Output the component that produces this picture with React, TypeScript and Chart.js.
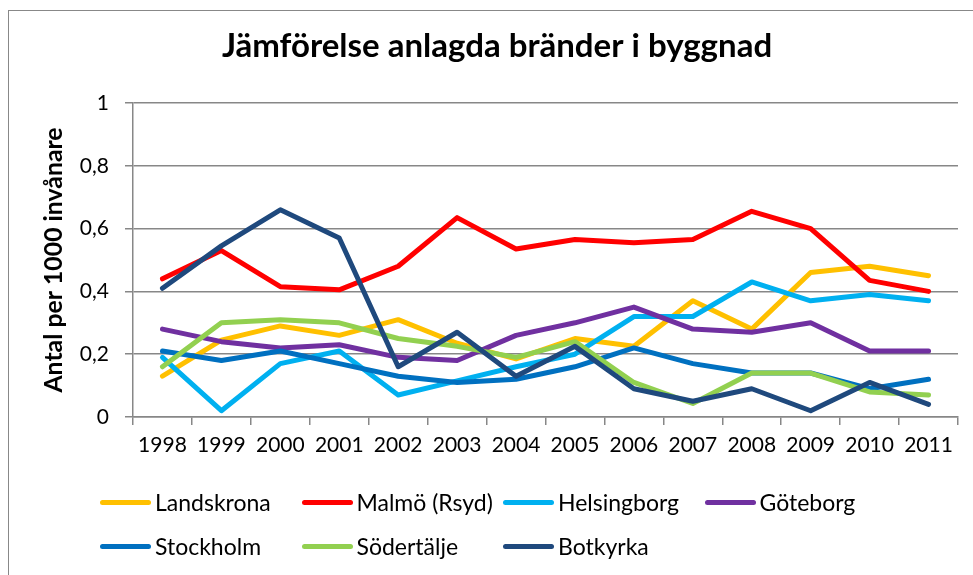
import React, { useEffect, useRef } from "react";
import { Chart, registerables } from "chart.js";

Chart.register(...registerables);

const years = ["1998", "1999", "2000", "2001", "2002", "2003", "2004", "2005", "2006", "2007", "2008", "2009", "2010", "2011"];

const landskrona = [0.13, 0.245, 0.29, 0.26, 0.31, 0.235, 0.185, 0.25, 0.225, 0.37, 0.28, 0.46, 0.48, 0.45];
const malmo = [0.44, 0.53, 0.415, 0.405, 0.48, 0.635, 0.535, 0.565, 0.555, 0.565, 0.655, 0.6, 0.435, 0.4];
const helsingborg = [0.19, 0.02, 0.17, 0.21, 0.07, 0.115, 0.16, 0.2, 0.32, 0.32, 0.43, 0.37, 0.39, 0.37];
const goteborg = [0.28, 0.24, 0.22, 0.23, 0.19, 0.18, 0.26, 0.3, 0.35, 0.28, 0.27, 0.3, 0.21, 0.21];
const stockholm = [0.21, 0.18, 0.21, 0.17, 0.13, 0.11, 0.12, 0.16, 0.22, 0.17, 0.14, 0.14, 0.09, 0.12];
const sodertalje = [0.16, 0.3, 0.31, 0.3, 0.25, 0.225, 0.19, 0.24, 0.11, 0.043, 0.14, 0.14, 0.08, 0.07];
const botkyrka = [0.41, 0.545, 0.66, 0.57, 0.16, 0.27, 0.13, 0.225, 0.09, 0.05, 0.09, 0.02, 0.11, 0.04];

const seriesNames = ["Landskrona", "Malmö (Rsyd)", "Helsingborg", "Göteborg", "Stockholm", "Södertälje", "Botkyrka"];
const seriesValues = [landskrona, malmo, helsingborg, goteborg, stockholm, sodertalje, botkyrka];
const seriesColors = ["#FFC000", "#FF0000", "#00B0F0", "#7030A0", "#0070C0", "#92D050", "#1F497D"];

const titleText = "Jämförelse anlagda bränder i byggnad";
const yTitleText = "Antal per 1000 invånare";

const FONT = "Lato, 'Noto Sans', sans-serif";
const GRAY = "#878787";

export default function App() {
  const canvasRef = useRef<HTMLCanvasElement | null>(null);

  useEffect(() => {
    const canvas = canvasRef.current;
    if (!canvas) return;
    const n = seriesNames.length;
    const chart = new Chart(canvas, {
      type: "line",
      data: {
        labels: years,
        datasets: seriesNames.map((name, i) => ({
          label: name,
          data: seriesValues[i],
          borderColor: seriesColors[i],
          backgroundColor: seriesColors[i],
          borderWidth: 5,
          pointRadius: 0,
          pointHoverRadius: 0,
          tension: 0,
          fill: false,
          borderCapStyle: "round" as const,
          borderJoinStyle: "round" as const,
          order: n - 1 - i,
        })),
      },
      options: {
        responsive: false,
        animation: false,
        devicePixelRatio: 1,
        layout: { padding: { left: 36, right: 15, top: 0, bottom: 0 } },
        plugins: {
          legend: { display: false },
          tooltip: { enabled: false },
          title: {
            display: true,
            text: titleText,
            color: "#000",
            font: { family: FONT, size: 33, weight: "bold" },
            padding: { top: 27, bottom: 36.4 },
          },
        },
        scales: {
          x: {
            type: "category",
            offset: true,
            grid: {
              offset: true,
              drawOnChartArea: false,
              drawTicks: true,
              tickLength: 8,
              color: GRAY,
              lineWidth: 1.5,
            },
            border: { display: true, color: GRAY, width: 1.5 },
            ticks: {
              color: "#000",
              font: { family: FONT, size: 21 },
              padding: 8,
              maxRotation: 0,
              autoSkip: false,
            },
            afterFit: (s: any) => {
              s.height = 158;
            },
          },
          y: {
            min: 0,
            max: 1,
            ticks: {
              stepSize: 0.2,
              color: "#000",
              font: { family: FONT, size: 21 },
              padding: 16,
              callback: (v: any) => String(Math.round(Number(v) * 10) / 10).replace(".", ","),
            },
            grid: { color: GRAY, lineWidth: 1.5, drawTicks: true, tickLength: 8 },
            border: { display: true, color: GRAY, width: 1.5 },
            title: {
              display: true,
              text: yTitleText,
              color: "#000",
              font: { family: FONT, size: 24.8, weight: "bold" },
              padding: { top: 3, bottom: 0 },
            },
            afterFit: (s: any) => {
              s.width = 97;
            },
          },
        },
      },
    });
    return () => chart.destroy();
  }, []);

  return (
    <div style={{ position: "fixed", left: 0, top: 0, width: 973, height: 575, overflow: "hidden", background: "#fff" }}>
      <div
        style={{
          position: "absolute",
          left: 8,
          top: 10,
          width: 1200,
          height: 1200,
          border: "1px solid #888",
          boxSizing: "border-box",
        }}
      />
      <canvas ref={canvasRef} width={973} height={575} style={{ position: "absolute", left: 0, top: 0, width: 973, height: 575 }} />
      {seriesNames.map((name, i) => {
        const row = Math.floor(i / 4);
        const col = i % 4;
        return (
          <div
            key={name}
            style={{
              position: "absolute",
              left: 100 + col * 201.5,
              top: 489 + row * 44,
              height: 26,
              display: "flex",
              alignItems: "center",
              fontFamily: FONT,
              fontSize: 23,
              color: "#000",
              whiteSpace: "nowrap",
            }}
          >
            <div style={{ width: 51, height: 5, borderRadius: 3, background: seriesColors[i], marginRight: 4 }} />
            <span style={{ lineHeight: "26px" }}>{name}</span>
          </div>
        );
      })}
    </div>
  );
}
